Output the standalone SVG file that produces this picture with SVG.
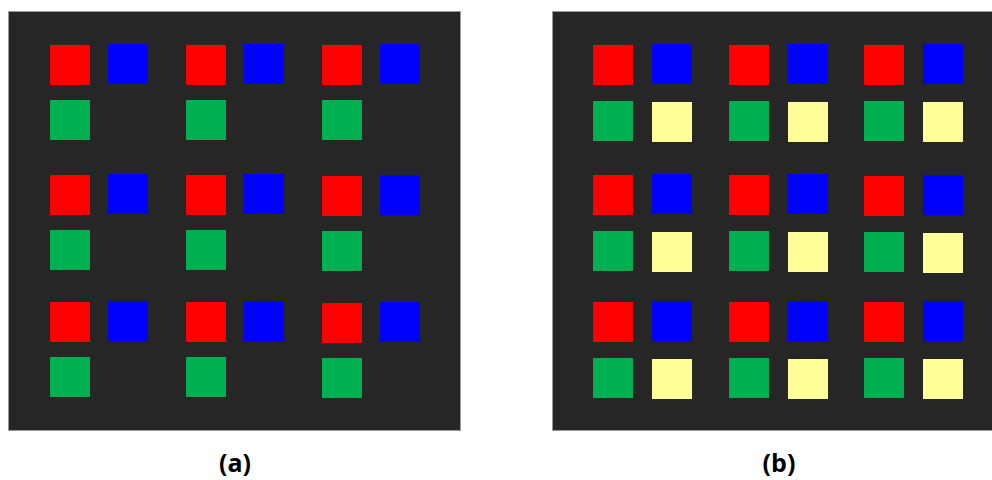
<svg xmlns="http://www.w3.org/2000/svg" width="992" height="480" viewBox="0 0 992 480">
<style>
.bg{fill:#262626;stroke:#9a9a9a;stroke-width:1}
.r{fill:#ff0000}.b{fill:#0000ff}.g{fill:#00b050}.y{fill:#ffff99}
.lbl{font-family:"Open Sans","Liberation Sans",sans-serif;font-weight:bold;font-size:25px;fill:#000;text-anchor:middle}
</style>
<defs>
<g id="cellA"><rect class="r" x="0" y="0" width="40" height="40"/><rect class="b" x="58" y="-1" width="40" height="40"/><rect class="g" x="0" y="55" width="40" height="40"/></g>
<g id="cellB"><rect class="r" x="0" y="0" width="40" height="40"/><rect class="b" x="59" y="-1" width="40" height="40"/><rect class="g" x="0" y="56" width="40" height="40"/><rect class="y" x="59" y="57" width="40" height="40"/></g>
</defs>
<rect width="992" height="480" fill="#ffffff"/>
<g id="panel-a">
<rect class="bg" x="8.5" y="11.5" width="452" height="419"/>
<use href="#cellA" x="50" y="45"/><use href="#cellA" x="186" y="45"/><use href="#cellA" x="322" y="45"/>
<use href="#cellA" x="50" y="175"/><use href="#cellA" x="186" y="175"/><use href="#cellA" x="322" y="176"/>
<use href="#cellA" x="50" y="302"/><use href="#cellA" x="186" y="302"/><use href="#cellA" x="322" y="303"/>
<text class="lbl" x="235" y="472">(a)</text>
</g>
<g id="panel-b">
<rect class="bg" x="552.5" y="11.5" width="440" height="419"/>
<use href="#cellB" x="593" y="45"/><use href="#cellB" x="729" y="45"/><use href="#cellB" x="864" y="45"/>
<use href="#cellB" x="593" y="175"/><use href="#cellB" x="729" y="175"/><use href="#cellB" x="864" y="176"/>
<use href="#cellB" x="593" y="302"/><use href="#cellB" x="729" y="302"/><use href="#cellB" x="864" y="302"/>
<text class="lbl" x="779" y="472">(b)</text>
</g>
</svg>
